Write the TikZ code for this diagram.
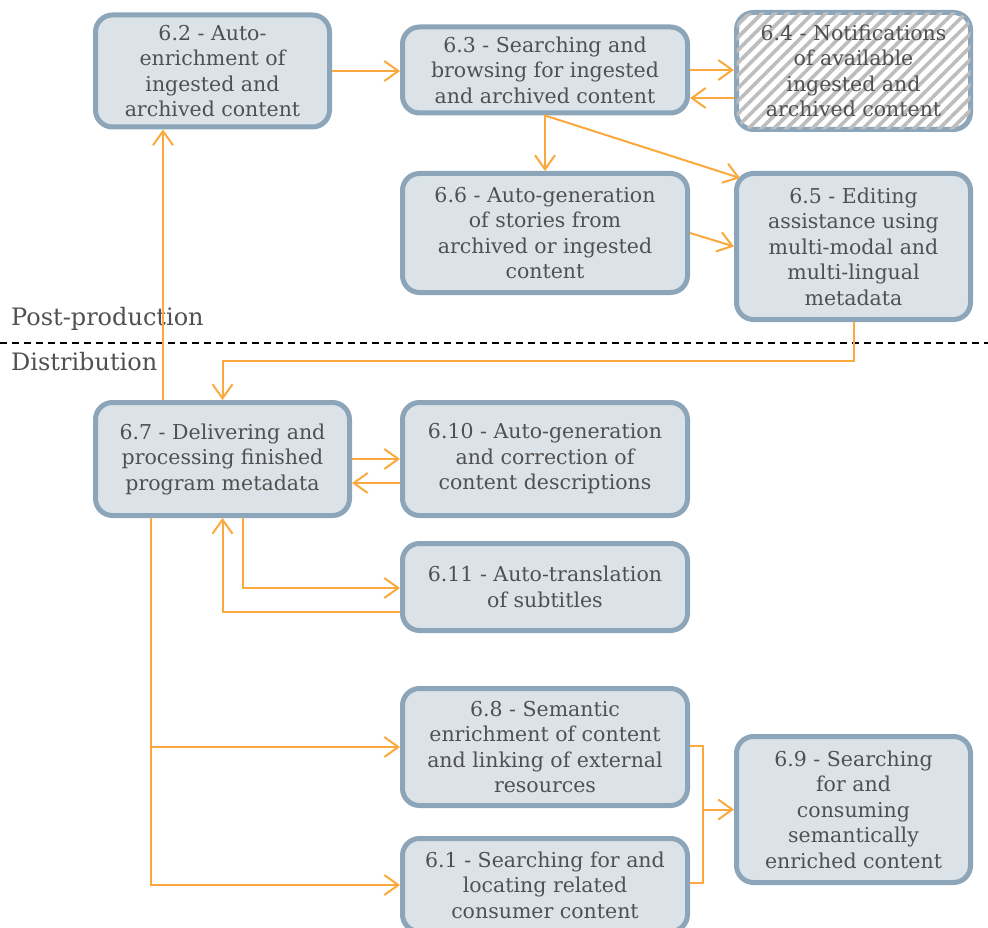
\documentclass[tikz,border=0pt]{standalone}
\usepackage{fontspec}
\setmainfont{DejaVu Serif}
\usetikzlibrary{arrows.meta,calc,patterns.meta}
\definecolor{boxfill}{HTML}{DCE3E8}
\definecolor{boxline}{HTML}{8CA5B9}
\definecolor{arr}{HTML}{FBA83C}
\definecolor{txt}{HTML}{505050}
\definecolor{hatch}{HTML}{BDBDBD}
\begin{document}
\begin{tikzpicture}[x=1pt,y=-1pt,
 box/.style={draw=boxline,fill=boxfill,line width=5pt,rounded corners=17pt,align=center,text=txt,font=\fontsize{20.5}{25.5}\selectfont,inner sep=0pt},
 conn/.style={draw=arr,line width=2pt,-{Straight Barb[length=14pt,width=20pt,line width=2pt]}},
 plainline/.style={draw=arr,line width=2pt},
 lbl/.style={anchor=west,text=txt,font=\fontsize{24}{24}\selectfont,inner sep=0pt}]
\useasboundingbox (0,0) rectangle (988,928);

\node[box,minimum width=234pt,minimum height=112pt] (n62) at (212.5,71) {6.2 - Auto-\\enrichment of\\ingested and\\archived content};
\node[box,minimum width=285pt,minimum height=86pt] (n63) at (545,70) {6.3 - Searching and\\browsing for ingested\\and archived content};
\node[box,minimum width=234pt,minimum height=117pt,fill=white,postaction={pattern={Lines[angle=45,distance=9pt,line width=3.6pt]},pattern color=hatch}] (n64) at (853.5,71) {};
\node[text=txt,align=center,font=\fontsize{20.5}{25.5}\selectfont,inner sep=0pt] (t64) at (n64.center) {6.4 - Notifications\\of available\\ingested and\\archived content};
\node[box,minimum width=285pt,minimum height=119pt] (n66) at (545,233) {6.6 - Auto-generation\\of stories from\\archived or ingested\\content};
\node[box,minimum width=234pt,minimum height=146pt] (n65) at (853.5,246.5) {6.5 - Editing\\assistance using\\multi-modal and\\multi-lingual\\metadata};
\node[box,minimum width=254pt,minimum height=113pt] (n67) at (222.5,459) {6.7 - Delivering and\\processing finished\\program metadata};
\node[box,minimum width=285pt,minimum height=113pt] (n610) at (545,459) {6.10 - Auto-generation\\and correction of\\content descriptions};
\node[box,minimum width=285pt,minimum height=87pt] (n611) at (545,587) {6.11 - Auto-translation\\of subtitles};
\node[box,minimum width=285pt,minimum height=117pt] (n68) at (545,747) {6.8 - Semantic\\enrichment of content\\and linking of external\\resources};
\node[box,minimum width=285pt,minimum height=93pt] (n61) at (545,885) {6.1 - Searching for and\\locating related\\consumer content};
\node[box,minimum width=234pt,minimum height=146pt] (n69) at (853.5,809.5) {6.9 - Searching\\for and\\consuming\\semantically\\enriched content};

% section labels and divider
\node[lbl] (lpost) at (11,319) {Post-production};
\node[lbl] (ldist) at (11,362) {Distribution};
\coordinate (dl) at (0,343);
\coordinate (dr) at (988,343);
\draw[black,line width=1.6pt,dash pattern=on 7pt off 5pt] (dl) -- (dr);

% connectors
\draw[conn] (n62.east) -- (n62.east -| n63.west);
\draw[conn] (n63.east) -- (n63.east -| n64.west);
\draw[conn] ($(n64.west)+(0,27)$) -- ($(n63.east)+(0,28)$);
\draw[conn] (n63.south) -- (n66.north);
\draw[conn] (n63.south) -- ($(n65.north west)+(6,7)$);
\draw[conn] (n66.east) -- (n65.west);
\draw[conn] (n65.south) -- ++(0,39) -| (n67.north);
\coordinate (up) at ($(n67.north west)+(70,0)$);
\draw[conn] (up) -- (up |- n62.south);
\draw[conn] (n67.east) -- (n610.west);
\draw[conn] ($(n610.west)+(0,24)$) -- ($(n67.east)+(0,24)$);
\coordinate (d1) at ($(n67.south)+(20.5,0)$);
\draw[conn] (d1) |- ($(n611.west)+(0,1)$);
\draw[conn] ($(n611.west)+(0,25)$) -| (n67.south);
\coordinate (d2) at ($(n67.south west)+(58,0)$);
\draw[conn] (d2) |- (n68.west);
\draw[conn] (d2) |- (n61.west);
\draw[plainline] ($(n68.east)+(0,-1)$) -- ++(13,0) |- ($(n61.east)+(0,-2)$);
\draw[conn] ($(n69.west)+(-31,0)$) -- (n69.west);
\end{tikzpicture}
\end{document}
